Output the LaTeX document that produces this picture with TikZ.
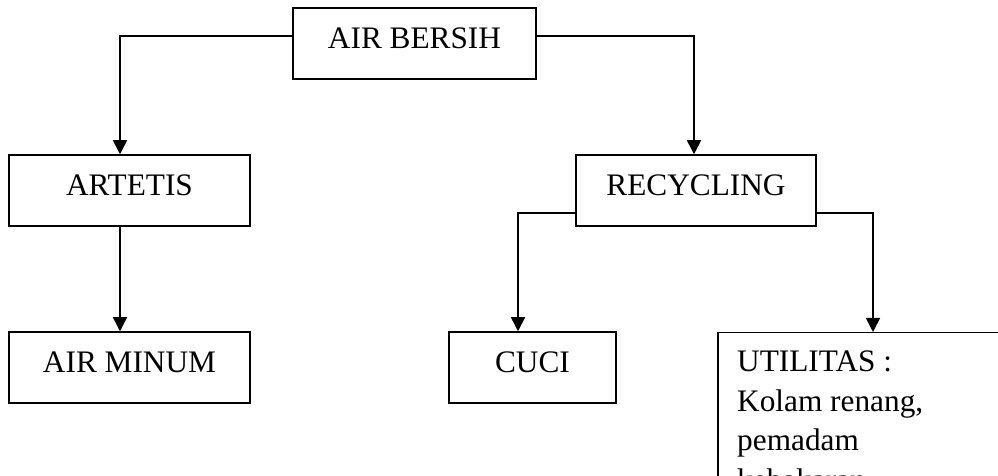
\documentclass[tikz,border=0pt]{standalone}
\usepackage{fontspec}
\setmainfont{Liberation Serif}
\usetikzlibrary{arrows.meta}
\begin{document}
\begin{tikzpicture}[x=1pt,y=1pt,
  every node/.style={font=\fontsize{31.3}{39.5}\selectfont},
  box/.style={draw, line width=1.5pt, inner sep=0pt, minimum height=71pt, text height=21pt, text depth=10pt},
  arr/.style={line width=1.6pt, -{Triangle[length=14pt,width=14pt]}},
  plain/.style={line width=1.5pt}]
\useasboundingbox (0,0) rectangle (998,476);
\clip (0,0) rectangle (998,476);
\node[box, minimum width=243pt] (ab) at (414.5,432.5) {AIR BERSIH};
\node[box, minimum width=241pt] (art) at (129.5,285.5) {ARTETIS};
\node[box, minimum width=241pt] (min) at (129.5,108.5) {AIR MINUM};
\node[box, minimum width=240pt] (rec) at (696,285.5) {RECYCLING};
\node[box, minimum width=167pt] (cuci) at (532.5,108.5) {CUCI};
\node[draw, line width=1.5pt, inner sep=0pt, minimum width=300pt, minimum height=200pt, anchor=north west] (util) at (717,144) {};
\node[anchor=north west, align=left, inner sep=0pt] (utiltext) at (737,125) {UTILITAS :\\Kolam renang,\\pemadam\\kebakaran};
\draw[arr] ([yshift=7.5pt]ab.west) -| ([xshift=-9.5pt]art.north);
\draw[arr] ([yshift=7.5pt]ab.east) -| ([xshift=-2pt]rec.north);
\draw[arr] ([xshift=-9.5pt]art.south) -- ([xshift=-9.5pt]min.north);
\draw[arr] ([yshift=-22.5pt]rec.west) -| ([xshift=-14.5pt]cuci.north);
\draw[arr] ([yshift=-22.5pt]rec.east) -| (873,144);
\end{tikzpicture}
\end{document}
